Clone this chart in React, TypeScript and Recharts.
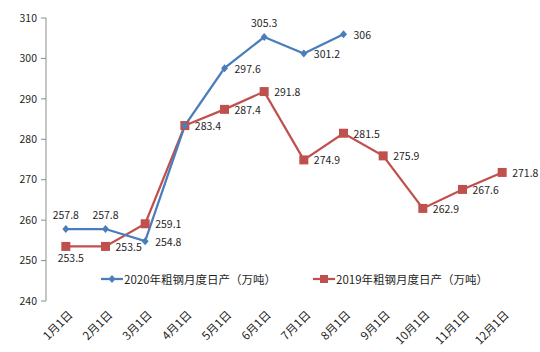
import React from "react";
import { LineChart, Line, XAxis, YAxis, LabelList } from "recharts";

const months = ["1月1日", "2月1日", "3月1日", "4月1日", "5月1日", "6月1日", "7月1日", "8月1日", "9月1日", "10月1日", "11月1日", "12月1日"];
const output2020 = [257.8, 257.8, 254.8, 283.4, 297.6, 305.3, 301.2, 306];
const output2019 = [253.5, 253.5, 259.1, 283.4, 287.4, 291.8, 274.9, 281.5, 275.9, 262.9, 267.6, 271.8];
const yTicks = [240, 250, 260, 270, 280, 290, 300, 310];

const name2020 = "2020年粗钢月度日产（万吨）";
const name2019 = "2019年粗钢月度日产（万吨）";

// where each point's value label sits
const labelSide2020 = ["top", "top", "right", "none", "right", "top", "right", "right"];
const labelSide2019 = ["bottom", "right", "right", "right", "right", "right", "right", "right", "right", "right", "right", "right"];

const BLUE = "#4A7EBB";
const RED = "#C0504D";
const AXIS = "#8C8C8C";
const TEXT = "#1F1F1F";
const FONT = "'Noto Sans CJK SC', 'Noto Sans', sans-serif";

const data = months.map((m, i) => ({
  x: i + 0.5,
  month: m,
  y2020: i < output2020.length ? output2020[i] : null,
  y2019: output2019[i],
}));

const Diamond = ({ cx, cy }: any) =>
  cx == null || cy == null ? null : (
    <path d={`M${cx},${cy - 4} L${cx + 3.5},${cy} L${cx},${cy + 4} L${cx - 3.5},${cy} Z`} fill={BLUE} />
  );

const Square = ({ cx, cy }: any) =>
  cx == null || cy == null ? null : <rect x={cx - 4.5} y={cy - 4.5} width={9} height={9} fill={RED} />;

const makeLabel = (sides: string[]) => (props: any) => {
  const { x, y, value, index } = props;
  const side = sides[index];
  if (value == null || side === "none") return null;
  let tx = x + 10;
  let ty = y;
  let anchor = "start";
  if (side === "top") {
    tx = x;
    ty = y - 15;
    anchor = "middle";
  } else if (side === "bottom") {
    tx = x + 5;
    ty = y + 11;
    anchor = "middle";
  }
  return (
    <text x={tx} y={ty} textAnchor={anchor} dominantBaseline="central" fontSize={10.5} fontFamily={FONT} fill={TEXT}>
      {value}
    </text>
  );
};

const MonthTick = ({ x, y, payload }: any) => (
  <g transform={`translate(${x + 4},${y + 3})`}>
    <text transform="rotate(-45)" textAnchor="end" fontSize={11.5} fontFamily={FONT} fill={TEXT} dominantBaseline="central">
      {months[Math.floor(payload.value)]}
    </text>
  </g>
);

const LegendItem = ({ left, color, square, label }: any) => (
  <div style={{ position: "absolute", left, top: 0, height: 18, display: "flex", alignItems: "center" }}>
    <svg width={22} height={18}>
      <line x1={0} y1={9} x2={22} y2={9} stroke={color} strokeWidth={2.25} />
      {square ? (
        <rect x={7} y={5} width={8} height={8} fill={color} />
      ) : (
        <path d="M11,5 L14.5,9 L11,13 L7.5,9 Z" fill={color} />
      )}
    </svg>
    <span style={{ fontSize: 11.5, fontFamily: FONT, color: TEXT, marginLeft: 1, whiteSpace: "nowrap" }}>{label}</span>
  </div>
);

export default function App() {
  return (
    <div style={{ position: "fixed", left: 0, top: 0, width: 540, height: 352, background: "#fff" }}>
      <LineChart width={540} height={352} data={data} margin={{ top: 18, right: 18, bottom: 0, left: 0 }}>
        <XAxis
          xAxisId={0}
          dataKey="x"
          type="number"
          domain={[0, 12]}
          ticks={[0, 1, 2, 3, 4, 5, 6, 7, 8, 9, 10, 11, 12]}
          tickFormatter={() => ""}
          height={0}
          tickSize={5}
          stroke={AXIS}
          axisLine={{ stroke: AXIS, strokeWidth: 1 }}
          tickLine={{ stroke: AXIS }}
        />
        <XAxis
          xAxisId="labels"
          dataKey="x"
          type="number"
          domain={[0, 12]}
          ticks={[0.5, 1.5, 2.5, 3.5, 4.5, 5.5, 6.5, 7.5, 8.5, 9.5, 10.5, 11.5]}
          height={51}
          axisLine={false}
          tickLine={false}
          tick={<MonthTick />}
          interval={0}
        />
        <YAxis
          domain={[240, 310]}
          ticks={yTicks}
          width={46}
          tickSize={5}
          tickMargin={4}
          stroke={AXIS}
          tick={{ fill: TEXT, fontSize: 10.5, fontFamily: FONT }}
        />
        <Line
          dataKey="y2019"
          name={name2019}
          stroke={RED}
          strokeWidth={2.25}
          dot={<Square />}
          activeDot={false}
          isAnimationActive={false}
        >
          <LabelList dataKey="y2019" content={makeLabel(labelSide2019)} />
        </Line>
        <Line
          dataKey="y2020"
          name={name2020}
          stroke={BLUE}
          strokeWidth={2.25}
          dot={<Diamond />}
          activeDot={false}
          connectNulls={false}
          isAnimationActive={false}
        >
          <LabelList dataKey="y2020" content={makeLabel(labelSide2020)} />
        </Line>
      </LineChart>
      <div style={{ position: "absolute", left: 0, top: 270, width: 540, height: 18 }}>
        <LegendItem left={101} color={BLUE} square={false} label={name2020} />
        <LegendItem left={313} color={RED} square={true} label={name2019} />
      </div>
    </div>
  );
}
